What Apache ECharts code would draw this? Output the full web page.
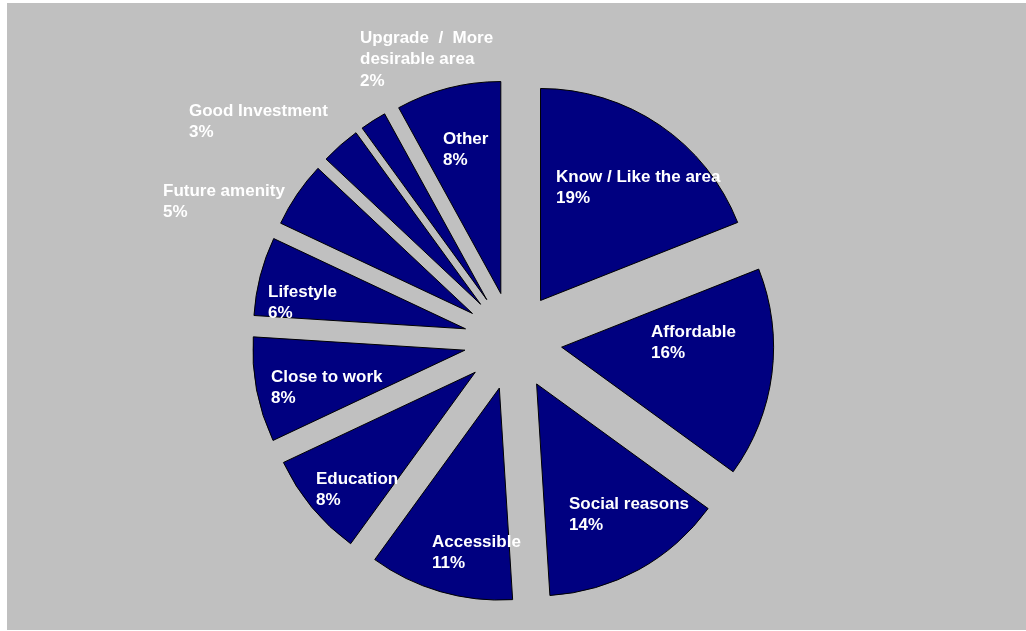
<!DOCTYPE html>
<html>
<head>
<meta charset="utf-8">
<script src="https://cdn.jsdelivr.net/npm/echarts@6/dist/echarts.min.js"></script>
<style>
  html, body { margin: 0; padding: 0; background: #ffffff; }
  #chart { width: 1026px; height: 631px; }
</style>
</head>
<body>
<div id="chart"></div>
<script>
// Reasons for choosing the area (share of responses, %), clockwise from 12 o'clock
const categories = [
  'Know / Like the area',
  'Affordable',
  'Social reasons',
  'Accessible',
  'Education',
  'Close to work',
  'Lifestyle',
  'Future amenity',
  'Good Investment',
  'Upgrade  /  More\ndesirable area',
  'Other'
];
const shares = [19, 16, 14, 11, 8, 8, 6, 5, 3, 2, 8];

// Label anchor for each slice: left edge of the text block, centre of its first line
const labelAnchors = [
  [556, 177], [651, 332], [569, 504], [432, 542], [316, 479], [271, 377],
  [268, 292], [163, 191], [189, 111], [360, 38], [443, 139]
];

const NAVY = '#000080';
const LINE_H = 21.5;

const chart = echarts.init(document.getElementById('chart'), null, { renderer: 'canvas' });

// Slice captions: name on the first line(s), share underneath
const captions = categories.map(function (name, i) {
  const a = labelAnchors[i];
  return {
    type: 'text',
    z: 10,
    silent: true,
    x: a[0],
    y: a[1] - LINE_H / 2,
    style: {
      text: name + '\n' + shares[i] + '%',
      fill: '#ffffff',
      fontFamily: 'Liberation Sans, Arial, sans-serif',
      fontWeight: 'bold',
      fontSize: 17,
      lineHeight: LINE_H,
      align: 'left',
      verticalAlign: 'top'
    }
  };
});

chart.setOption({
  animation: false,
  backgroundColor: '#ffffff',
  graphic: [{
    type: 'rect',
    z: -10,
    shape: { x: 7, y: 3, width: 1019, height: 627 },
    style: { fill: '#c0c0c0' },
    silent: true
  }].concat(captions),
  series: [{
    type: 'pie',
    center: [513, 341],
    radius: 212,
    startAngle: 90,
    clockwise: true,
    selectedMode: 'multiple',
    selectedOffset: 49,
    itemStyle: { color: NAVY, borderColor: '#000000', borderWidth: 1 },
    select: {
      itemStyle: { color: NAVY, borderColor: '#000000', borderWidth: 1 },
      label: { show: false },
      labelLine: { show: false }
    },
    emphasis: { disabled: true },
    label: { show: false },
    labelLine: { show: false },
    data: categories.map(function (name, i) {
      return { name: name, value: shares[i], selected: true };
    })
  }]
});
</script>
</body>
</html>
